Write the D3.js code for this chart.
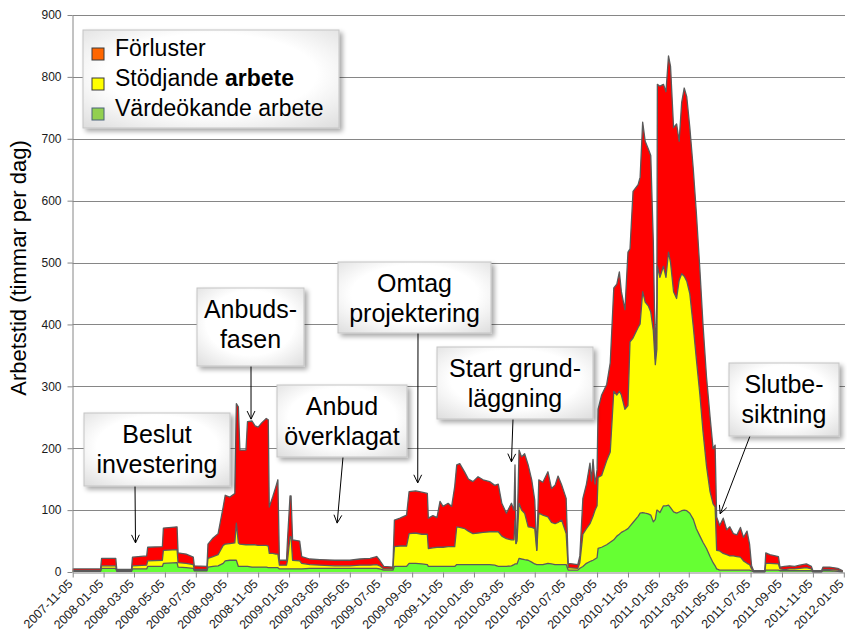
<!DOCTYPE html>
<html>
<head>
<meta charset="utf-8">
<script src="https://cdn.jsdelivr.net/npm/d3@7"></script>
<style>
  body { margin: 0; background: #fff; }
  svg { display: block; font-family: "Liberation Sans", Arial, sans-serif; }
</style>
</head>
<body>
<svg id="chart" width="847" height="635"></svg>
<script>

  /*
    Data
  */

  // day number counted from startDate, one entry per reading
  const startDate = "2007-11-05";
  const dag = [
    0, 55, 57, 85, 87, 116, 118, 146, 148, 177,
    179, 206, 208, 224, 238, 240, 265, 267, 277, 287,
    297, 301, 310, 320, 323, 327, 330, 342, 345, 354,
    360, 366, 373, 382, 386, 388, 395, 401, 405, 408,
    422, 424, 429, 431, 434, 448, 452, 468, 488, 517,
    547, 567, 587, 600, 606, 614, 632, 635, 646, 659,
    664, 677, 689, 700, 702, 711, 719, 725, 731, 741,
    748, 754, 758, 764, 774, 781, 790, 800, 810, 823,
    833, 840, 847, 856, 866, 871, 873, 875, 877, 881,
    886, 892, 899, 906, 912, 916, 920, 928, 938, 945,
    952, 958, 965, 974, 978, 997, 1001, 1007, 1014, 1021,
    1024, 1027, 1031, 1035, 1037, 1044, 1054, 1061, 1068, 1074,
    1079, 1083, 1090, 1096, 1100, 1106, 1116, 1120, 1125, 1130,
    1136, 1141, 1146, 1150, 1153, 1154, 1159, 1166, 1171, 1176,
    1180, 1186, 1192, 1197, 1202, 1207, 1212, 1218, 1225, 1231,
    1238, 1244, 1251, 1258, 1264, 1268, 1271, 1277, 1284, 1291,
    1297, 1304, 1311, 1318, 1324, 1331, 1336, 1340, 1344, 1366,
    1368, 1376, 1393, 1396, 1405, 1415, 1425, 1435, 1448, 1458,
    1461, 1478, 1481, 1494, 1510, 1520
  ];

  const vardeokande = [
    1, 1, 6, 6, 1, 1, 5, 5, 9, 9,
    14, 15, 8, 7, 6, 2, 2, 8, 9, 10,
    14, 18, 19, 19, 19, 9, 9, 9, 9, 8,
    8, 8, 8, 8, 7, 7, 7, 7, 7, 5,
    5, 5, 5, 5, 5, 5, 5, 6, 6, 6,
    6, 6, 6, 6, 5, 3, 3, 9, 9, 9,
    14, 14, 13, 12, 9, 9, 9, 9, 9, 9,
    9, 9, 12, 12, 12, 12, 12, 12, 12, 12,
    11, 9, 9, 9, 10, 12, 13, 13, 13, 22,
    21, 20, 19, 16, 13, 12, 12, 12, 14, 13,
    12, 12, 12, 12, 3, 3, 6, 9, 14, 17,
    18, 19, 21, 23, 38, 40, 44, 48, 52, 58,
    61, 64, 67, 70, 74, 80, 90, 95, 96, 95,
    94, 92, 81, 85, 100, 100, 96, 107, 107, 108,
    104, 97, 95, 97, 99, 100, 99, 95, 85, 70,
    58, 48, 38, 25, 15, 10, 5, 3, 3, 3,
    3, 3, 3, 3, 3, 3, 3, 2, 0, 0,
    3, 3, 3, 2, 2, 2, 2, 2, 2, 2,
    0, 0, 2, 2, 1, 0
  ];

  const stodjande = [
    1, 1, 4, 4, 1, 1, 5, 6, 9, 10,
    21, 21, 7, 7, 6, 2, 2, 14, 16, 18,
    29, 27, 27, 28, 60, 38, 36, 35, 35, 36,
    36, 35, 35, 35, 35, 23, 23, 22, 22, 6,
    6, 14, 52, 52, 14, 13, 9, 6, 5, 4,
    4, 5, 5, 6, 5, 2, 2, 32, 33, 33,
    48, 49, 48, 49, 29, 30, 31, 31, 31, 32,
    32, 32, 61, 60, 58, 54, 50, 51, 52, 53,
    54, 56, 49, 45, 42, 40, 71, 33, 37, 89,
    79, 75, 54, 56, 57, 23, 83, 80, 75, 67,
    66, 68, 72, 50, 4, 3, 9, 52, 56, 61,
    66, 71, 79, 84, 115, 116, 136, 146, 240, 228,
    231, 222, 196, 199, 298, 298, 305, 306, 357, 341,
    336, 328, 309, 250, 260, 394, 380, 387, 369, 409,
    396, 356, 347, 374, 383, 378, 371, 355, 311, 274,
    228, 180, 133, 105, 95, 95, 30, 31, 27, 25,
    23, 23, 22, 21, 15, 11, 9, 3, 1, 1,
    11, 11, 10, 3, 2, 3, 3, 4, 5, 3,
    1, 1, 2, 2, 2, 1
  ];

  const forluster = [
    3, 3, 12, 12, 2, 2, 14, 15, 22, 22,
    36, 37, 16, 15, 12, 6, 5, 23, 30, 34,
    62, 79, 75, 80, 193, 220, 152, 153, 199, 200,
    192, 191, 198, 205, 204, 75, 92, 109, 120, 8,
    8, 33, 66, 66, 33, 32, 11, 9, 9, 9,
    9, 10, 11, 13, 9, 4, 3, 43, 45, 50,
    68, 68, 68, 66, 49, 52, 48, 74, 66, 70,
    65, 97, 100, 103, 91, 84, 84, 91, 85, 81,
    75, 77, 53, 41, 59, 48, 89, 0, 10, 86,
    86, 96, 100, 77, 46, 0, 54, 53, 73, 55,
    62, 75, 57, 57, 7, 6, 11, 58, 72, 98,
    63, 92, 42, 58, 110, 130, 123, 144, 167, 179,
    193, 167, 161, 248, 150, 237, 231, 237, 274, 260,
    254, 253, 144, 9, 80, 294, 309, 294, 300, 317,
    317, 265, 282, 225, 277, 304, 298, 269, 254, 236,
    202, 173, 144, 121, 89, 100, 54, 41, 57, 40,
    47, 36, 35, 48, 38, 52, 33, 5, 1, 1,
    17, 14, 12, 3, 5, 5, 4, 5, 6, 4,
    1, 1, 4, 4, 3, 1
  ];

  const seriesKeys = ["vardeokande", "stodjande", "forluster"];
  const seriesColors = ["#66ff33", "#ffff00", "#ff0000"];

  const tickLabels = [
    "2007-11-05", "2008-01-05", "2008-03-05", "2008-05-05", "2008-07-05",
    "2008-09-05", "2008-11-05", "2009-01-05", "2009-03-05", "2009-05-05",
    "2009-07-05", "2009-09-05", "2009-11-05", "2010-01-05", "2010-03-05",
    "2010-05-05", "2010-07-05", "2010-09-05", "2010-11-05", "2011-01-05",
    "2011-03-05", "2011-05-05", "2011-07-05", "2011-09-05", "2011-11-05",
    "2012-01-05"
  ];
  const yTicks = [0, 100, 200, 300, 400, 500, 600, 700, 800, 900];

  const legendLabels = ["Förluster", "Stödjande", "Värdeökande arbete"];
  const legendColors = ["#ff6600", "#ffff00", "#92d050"];

  const annotationTexts = [
    ["Beslut", "investering"],
    ["Anbuds-", "fasen"],
    ["Anbud", "överklagat"],
    ["Omtag", "projektering"],
    ["Start grund-", "läggning"],
    ["Slutbe-", "siktning"]
  ];
  const annotationDates = ["2008-03-08", "2008-10-22", "2009-04-10", "2009-09-16", "2010-03-20", "2011-05-06"];
  const annotationValues = [47, 247, 79, 144, 178, 94];

  /*
    Layout
  */

  const calloutBoxes = [
    { x: 84, y: 413, w: 146, h: 73, ax: 135 },
    { x: 197, y: 288, w: 107, h: 78, ax: 251 },
    { x: 277, y: 385, w: 130, h: 72, ax: 343 },
    { x: 338, y: 262, w: 153, h: 71, ax: 418 },
    { x: 437, y: 347, w: 156, h: 72, ax: 513 },
    { x: 729, y: 363, w: 110, h: 73, ax: 750 }
  ];

  const svg = d3.select("#chart");
  const parseDate = d3.timeParse("%Y-%m-%d");
  const start = parseDate(startDate);

  const x = d3.scaleTime()
    .domain([start, parseDate("2012-01-05")])
    .range([72.7, 843.8]);

  const y = d3.scaleLinear()
    .domain([0, 900])
    .range([572, 15]);

  // defs: shadow + box fill
  const defs = svg.append("defs");
  const filter = defs.append("filter").attr("id", "shadow")
    .attr("x", "-20%").attr("y", "-20%").attr("width", "150%").attr("height", "160%");
  filter.append("feGaussianBlur").attr("in", "SourceAlpha").attr("stdDeviation", 2.5);
  filter.append("feOffset").attr("dx", 3).attr("dy", 3).attr("result", "off");
  filter.append("feComponentTransfer").append("feFuncA").attr("type", "linear").attr("slope", 0.35);
  const merge = filter.append("feMerge");
  merge.append("feMergeNode");
  merge.append("feMergeNode").attr("in", "SourceGraphic");

  const grad = defs.append("radialGradient").attr("id", "boxFill")
    .attr("cx", "50%").attr("cy", "45%").attr("r", "75%");
  grad.append("stop").attr("offset", "55%").attr("stop-color", "#ffffff");
  grad.append("stop").attr("offset", "100%").attr("stop-color", "#dcdcdc");

  /*
    Grid and axes
  */

  svg.append("g")
    .selectAll("line")
    .data(yTicks.slice(1))
    .enter()
    .append("line")
    .attr("x1", 72.5).attr("x2", 845)
    .attr("y1", d => Math.round(y(d)) + 0.5)
    .attr("y2", d => Math.round(y(d)) + 0.5)
    .attr("stroke", "#868686")
    .attr("stroke-width", 1);

  /*
    Stacked areas
  */

  let table = dag.map(function (d, i) {
    return {
      date: d3.timeDay.offset(start, d),
      vardeokande: vardeokande[i],
      stodjande: stodjande[i],
      forluster: forluster[i]
    };
  });

  let stack = d3.stack().keys(seriesKeys);
  let layers = stack(table);

  let area = d3.area()
    .x(d => x(d.data.date))
    .y0(d => y(d[0]))
    .y1(d => y(d[1]));

  let topLine = d3.line()
    .x(d => x(d.data.date))
    .y(d => y(d[1]));

  svg.append("g")
    .selectAll("path")
    .data(layers)
    .enter()
    .append("path")
    .attr("fill", (d, i) => seriesColors[i])
    .attr("d", area);

  svg.append("g")
    .selectAll("path")
    .data(layers)
    .enter()
    .append("path")
    .attr("fill", "none")
    .attr("stroke", "#5a5a5a")
    .attr("stroke-width", 1.3)
    .attr("stroke-linejoin", "round")
    .attr("d", topLine);

  // y axis
  let yAxis = svg.append("g")
    .attr("transform", "translate(72.5,0)")
    .call(d3.axisLeft(y).tickValues(yTicks).tickSize(5).tickSizeOuter(0).tickPadding(6));
  yAxis.select(".domain").attr("stroke", "#868686");
  yAxis.selectAll(".tick line").attr("stroke", "#868686");
  yAxis.selectAll("text")
    .attr("font-size", 12)
    .attr("font-family", "Liberation Sans, Arial, sans-serif")
    .attr("fill", "#1a1a1a");

  // x axis
  let xAxis = svg.append("g")
    .attr("transform", "translate(0,572.5)")
    .call(d3.axisBottom(x)
      .tickValues(tickLabels.map(parseDate))
      .tickSize(5)
      .tickSizeOuter(0)
      .tickFormat(d3.timeFormat("%Y-%m-%d")));
  xAxis.select(".domain").attr("stroke", "#868686");
  xAxis.selectAll(".tick line").attr("stroke", "#868686");
  xAxis.selectAll("text")
    .attr("font-size", 12.5)
    .attr("font-family", "Liberation Sans, Arial, sans-serif")
    .attr("fill", "#1a1a1a")
    .attr("x", 0)
    .attr("y", 0)
    .attr("dy", "0.35em")
    .attr("text-anchor", "end")
    .attr("transform", "translate(-3,9) rotate(-45)");

  // y title
  svg.append("text")
    .attr("transform", "translate(26,268) rotate(-90)")
    .attr("text-anchor", "middle")
    .attr("font-size", 22)
    .attr("fill", "#000")
    .text("Arbetstid (timmar per dag)");

  /*
    Legend
  */

  let legend = svg.append("g");
  legend.append("rect")
    .attr("x", 83).attr("y", 30).attr("width", 256).attr("height", 98)
    .attr("fill", "url(#boxFill)")
    .attr("stroke", "#c4c4c4")
    .attr("filter", "url(#shadow)");

  legendLabels.forEach(function (label, i) {
    let base = 56 + i * 30;
    legend.append("rect")
      .attr("x", 92).attr("y", base - 8)
      .attr("width", 12).attr("height", 12)
      .attr("fill", legendColors[i])
      .attr("stroke", i === 2 ? "#4a6378" : "#3a3a3a")
      .attr("stroke-width", 1);
    let t = legend.append("text")
      .attr("x", 115).attr("y", base)
      .attr("font-size", 23)
      .attr("fill", "#000")
      .text(label);
    if (i === 1) {
      t.append("tspan").text(" ");
      t.append("tspan").attr("font-weight", "bold").text("arbete");
    }
  });

  /*
    Callouts
  */

  let callouts = svg.append("g");
  annotationTexts.forEach(function (lines, i) {
    let b = calloutBoxes[i];
    let tx = x(parseDate(annotationDates[i]));
    let ty = y(annotationValues[i]);
    let sx = b.ax, sy = b.y + b.h;

    // arrow
    callouts.append("line")
      .attr("x1", sx).attr("y1", sy).attr("x2", tx).attr("y2", ty)
      .attr("stroke", "#000").attr("stroke-width", 1);
    let ang = Math.atan2(ty - sy, tx - sx);
    [0.45, -0.45].forEach(function (da) {
      callouts.append("line")
        .attr("x1", tx).attr("y1", ty)
        .attr("x2", tx - 9 * Math.cos(ang + da))
        .attr("y2", ty - 9 * Math.sin(ang + da))
        .attr("stroke", "#000").attr("stroke-width", 1);
    });

    callouts.append("rect")
      .attr("x", b.x).attr("y", b.y).attr("width", b.w).attr("height", b.h)
      .attr("fill", "url(#boxFill)")
      .attr("stroke", "#c4c4c4")
      .attr("filter", "url(#shadow)");

    lines.forEach(function (line, j) {
      callouts.append("text")
        .attr("x", b.x + b.w / 2)
        .attr("y", b.y + 30 + j * 29.5)
        .attr("text-anchor", "middle")
        .attr("font-size", 25)
        .attr("fill", "#000")
        .text(line);
    });
  });

</script>
</body>
</html>
